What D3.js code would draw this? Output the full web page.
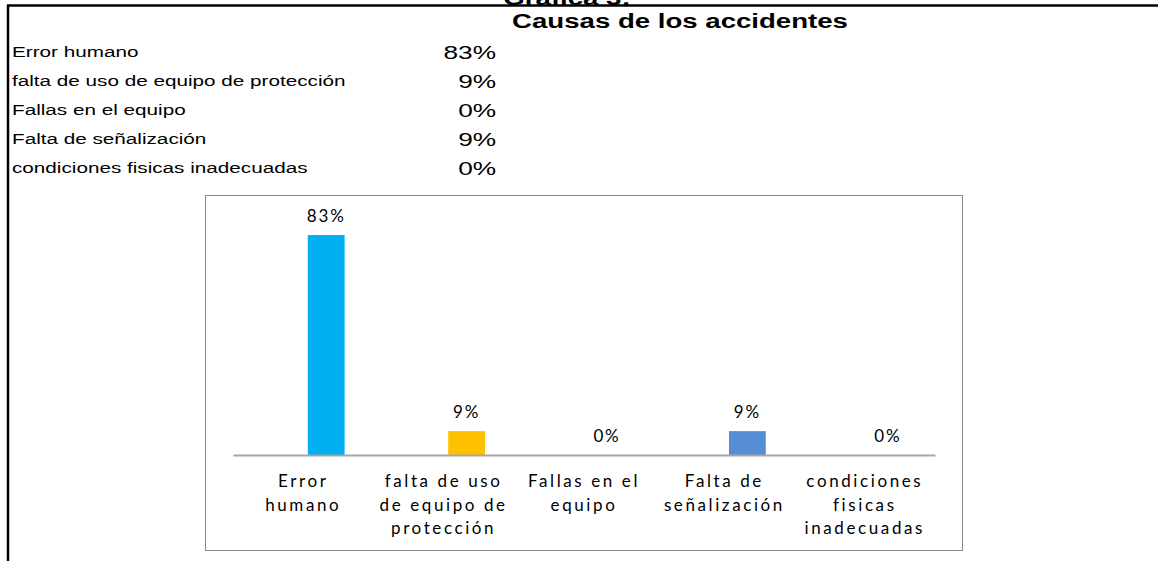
<!DOCTYPE html>
<html>
<head>
<meta charset="utf-8">
<script src="https://cdn.jsdelivr.net/npm/d3@7"></script>
<style>
  body { margin: 0; background: #fff; }
  svg { display: block; }
</style>
</head>
<body>
<div id="chart"></div>
<script>
const categories = ["Error humano", "falta de uso de equipo de protección", "Fallas en el equipo", "Falta de señalización", "condiciones fisicas inadecuadas"];
const values = [0.83, 0.09, 0, 0.09, 0];
const valueLabels = ["83%", "9%", "0%", "9%", "0%"];
const tickLines = [["Error", "humano"], ["falta de uso", "de equipo de", "protección"], ["Fallas en el", "equipo"], ["Falta de", "señalización"], ["condiciones", "fisicas", "inadecuadas"]];
const barColors = ["#00B0F0", "#FFC000", "#A5A5A5", "#558ED5", "#70AD47"];
const series = ["vacía", "porcentaje"];

const W = 1159, H = 561;
const stretch = 1.38; // the sheet text is drawn wider than normal

const svg = d3.select("#chart").append("svg")
    .attr("width", W)
    .attr("height", H);

// cut-off header and frame lines
svg.append("g")
    .attr("transform", `translate(567,5) scale(${stretch},1)`)
    .append("text")
    .attr("text-anchor", "middle")
    .style("font-family", "Liberation Sans, Arial")
    .style("font-weight", "bold")
    .style("font-size", "20px")
    .text("Grafica 3:");

svg.append("line").attr("x1", 7).attr("x2", 1158).attr("y1", 5.5).attr("y2", 5.5)
    .style("stroke", "#000").style("stroke-width", 2.5);
svg.append("line").attr("x1", 8).attr("x2", 8).attr("y1", 5).attr("y2", H)
    .style("stroke", "#000").style("stroke-width", 2.5);

svg.append("g")
    .attr("transform", `translate(680,28) scale(${stretch},1)`)
    .append("text")
    .attr("text-anchor", "middle")
    .style("font-family", "Liberation Sans, Arial")
    .style("font-weight", "bold")
    .style("font-size", "20px")
    .text("Causas de los accidentes");

// table
const rowY = d3.scalePoint().domain(categories).range([57, 173]);
const table = svg.append("g").selectAll("g")
    .data(categories).enter().append("g")
    .attr("transform", d => `translate(0,${rowY(d)})`);

table.append("text")
    .attr("transform", `translate(12,0) scale(${stretch},1)`)
    .style("font-family", "Liberation Sans, Arial")
    .style("font-size", "15px")
    .text(d => d);

table.append("text")
    .attr("transform", `translate(496,2) scale(${stretch},1)`)
    .attr("text-anchor", "end")
    .style("font-family", "Liberation Sans, Arial")
    .style("font-size", "19px")
    .text((d, i) => valueLabels[i]);

// chart box
svg.append("rect")
    .attr("x", 205.5).attr("y", 195.5)
    .attr("width", 757).attr("height", 355)
    .style("fill", "none")
    .style("stroke", "#888")
    .style("stroke-width", 1);

const x = d3.scaleBand().domain(categories).range([233, 935]);
const xSub = d3.scaleBand().domain(series).range([0, x.bandwidth()])
    .paddingInner(0.2).paddingOuter(0.626);
const y = d3.scaleLinear().domain([0, 0.9]).range([455, 216.5]);

svg.append("g").selectAll("rect")
    .data(categories).enter().append("rect")
    .attr("x", d => x(d) + xSub("porcentaje"))
    .attr("width", xSub.bandwidth())
    .attr("y", (d, i) => y(values[i]))
    .attr("height", (d, i) => y(0) - y(values[i]))
    .style("fill", (d, i) => barColors[i]);

svg.append("g").selectAll("text")
    .data(categories).enter().append("text")
    .attr("x", d => x(d) + xSub("porcentaje") + xSub.bandwidth() / 2)
    .attr("y", (d, i) => y(values[i]) - 13)
    .attr("text-anchor", "middle")
    .style("font-family", "Lato, Open Sans, sans-serif")
    .style("font-size", "17px")
    .style("letter-spacing", "1.8px")
    .style("fill", "#000")
    .text((d, i) => valueLabels[i]);

// axis line
const xAxis = svg.append("g")
    .attr("transform", `translate(0,${y(0)})`)
    .call(d3.axisBottom(x).tickSize(0).tickFormat(""));
xAxis.select(".domain").style("stroke", "#A6A6A6").style("stroke-width", 2);

xAxis.selectAll(".tick").each(function (d, i) {
    const t = d3.select(this).append("text")
        .attr("text-anchor", "middle")
        .style("font-family", "Lato, Open Sans, sans-serif")
        .style("font-size", "17px")
        .style("letter-spacing", "2.6px")
        .style("fill", "#000");
    tickLines[i].forEach((line, k) => {
        t.append("tspan").attr("x", 0).attr("y", 32 + k * 23.5).text(line);
    });
});
</script>
</body>
</html>
